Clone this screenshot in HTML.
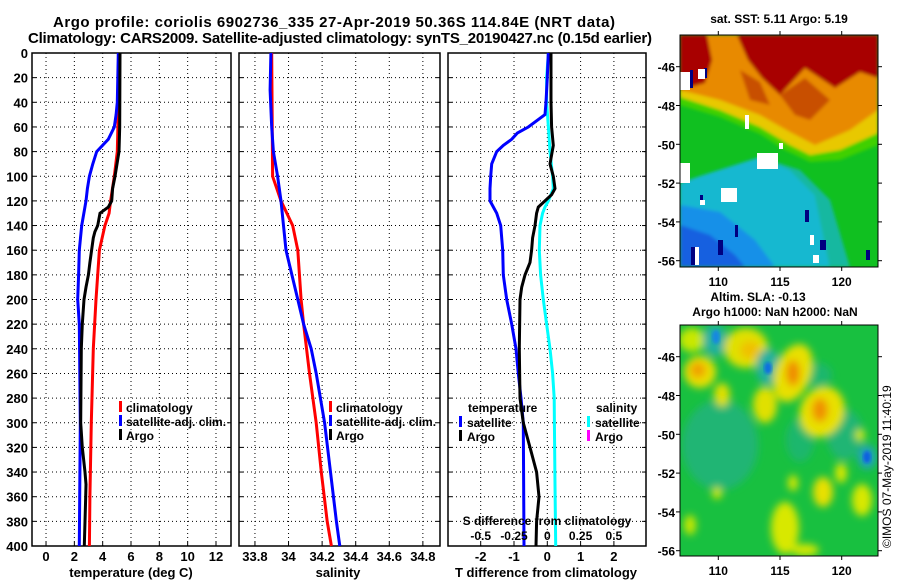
<!DOCTYPE html>
<html><head><meta charset="utf-8"><style>
html,body{margin:0;padding:0;background:#fff;}
svg{display:block;font-family:"Liberation Sans",Arial,sans-serif;font-weight:bold;}
</style></head><body>
<svg id="fig" width="900" height="580" viewBox="0 0 900 580" xmlns="http://www.w3.org/2000/svg">
<defs>
<filter id="blur4" x="-20%" y="-20%" width="140%" height="140%"><feGaussianBlur stdDeviation="4"/></filter>
<filter id="blur2"><feGaussianBlur stdDeviation="1.5"/></filter>
<clipPath id="clipTop"><rect x="680" y="35" width="198" height="232"/></clipPath>
<clipPath id="clipBot"><rect x="680" y="325" width="198" height="231"/></clipPath>
</defs>
<text x="334" y="27" font-size="15" text-anchor="middle" textLength="562">Argo profile: coriolis 6902736_335 27-Apr-2019 50.36S 114.84E (NRT data)</text>
<text x="340" y="43" font-size="15" text-anchor="middle" textLength="624">Climatology: CARS2009. Satellite-adjusted climatology: synTS_20190427.nc (0.15d earlier)</text>

<g id="p1"></g>
<g id="p2"></g>
<g id="p3"></g>

<g font-size="12">
<rect x="119" y="401" width="3" height="11" fill="#f00"/><text x="126" y="412">climatology</text>
<rect x="119" y="415" width="3" height="11" fill="#00f"/><text x="126" y="426">satellite-adj. clim.</text>
<rect x="119" y="429" width="3" height="11" fill="#000"/><text x="126" y="440">Argo</text>
</g>
<g font-size="12">
<rect x="329" y="401" width="3" height="11" fill="#f00"/><text x="336" y="412">climatology</text>
<rect x="329" y="415" width="3" height="11" fill="#00f"/><text x="336" y="426">satellite-adj. clim.</text>
<rect x="329" y="429" width="3" height="11" fill="#000"/><text x="336" y="440">Argo</text>
</g>
<g font-size="12">
<text x="468" y="412">temperature</text>
<rect x="459" y="416" width="3" height="11" fill="#00f"/><text x="467" y="427">satellite</text>
<rect x="459" y="430" width="3" height="11" fill="#000"/><text x="467" y="441">Argo</text>
<text x="596" y="412">salinity</text>
<rect x="587" y="416" width="3" height="11" fill="#0ff"/><text x="595" y="427">satellite</text>
<rect x="587" y="430" width="3" height="11" fill="#f0f"/><text x="595" y="441">Argo</text>
</g>
<text x="547" y="525" font-size="12" text-anchor="middle">S difference from climatology</text>

<text x="779" y="23" font-size="12" text-anchor="middle">sat. SST: 5.11 Argo: 5.19</text>
<g clip-path="url(#clipTop)">
<rect x="680" y="35" width="198" height="232" fill="#10c020"/>
<g filter="url(#blur2)">
<polygon points="680,95 720,108 760,125 790,143 810,153 840,150 878,132 878,145 840,160 810,162 785,150 760,134 720,117 680,105" fill="#40d000"/>
<polygon points="680,35 878,35 878,133 840,150 810,155 790,145 760,127 720,110 680,97" fill="#e8c800"/>
<polygon points="680,35 878,35 878,110 850,130 815,145 790,132 760,115 720,100 680,90" fill="#e88a00"/>
<polygon points="680,35 707,35 712,60 705,83 680,90" fill="#a80000"/>
<polygon points="737,35 878,35 878,78 860,72 835,88 805,68 780,95 762,78 748,60" fill="#a80000"/>
<polygon points="780,95 805,78 830,100 810,120 795,115" fill="#c85000"/>
<polygon points="740,70 760,82 770,105 750,100" fill="#c85000"/>
<polygon points="680,183 700,176 760,157 790,170 815,195 830,267 680,267" fill="#18b8d0"/>
<polygon points="760,157 790,170 815,195 830,267 850,267 830,200 800,170" fill="#18b8a0"/>
<polygon points="680,205 720,212 755,240 775,267 680,267" fill="#1890e8"/>
<polygon points="680,225 710,235 735,255 745,267 680,267" fill="#1860e0"/>
</g>
<g fill="#000080">
<rect x="690" y="70" width="3" height="18"/><rect x="704" y="68" width="3" height="10"/><rect x="691" y="247" width="4" height="18"/><rect x="718" y="240" width="5" height="15"/><rect x="805" y="210" width="4" height="12"/><rect x="820" y="240" width="6" height="10"/><rect x="866" y="250" width="4" height="10"/><rect x="735" y="225" width="3" height="12"/><rect x="700" y="195" width="3" height="10"/>
</g>
<g fill="#fff">
<rect x="680" y="72" width="10" height="18"/><rect x="698" y="69" width="7" height="10"/><rect x="757" y="153" width="21" height="16"/><rect x="745" y="115" width="4" height="14"/><rect x="721" y="188" width="16" height="14"/><rect x="680" y="163" width="10" height="20"/><rect x="810" y="235" width="4" height="10"/><rect x="813" y="255" width="6" height="8"/><rect x="695" y="247" width="4" height="18"/><rect x="700" y="200" width="5" height="5"/><rect x="779" y="143" width="4" height="6"/>
</g>
</g>
<rect x="680" y="35" width="198" height="232" fill="none" stroke="#000" stroke-width="1"/>
<g id="mapTopAxes" font-size="12"></g>
<text x="758" y="301" font-size="12" text-anchor="middle">Altim. SLA: -0.13</text>
<text x="775" y="316" font-size="12" text-anchor="middle">Argo h1000: NaN h2000: NaN</text>

<g clip-path="url(#clipBot)">
<rect x="680" y="325" width="198" height="231" fill="#18c040"/>
<g filter="url(#blur4)">
<ellipse cx="720" cy="445" rx="38" ry="45" fill="#22b08a" opacity="0.7"/>
<ellipse cx="845" cy="435" rx="18" ry="25" fill="#22b08a" opacity="0.7"/>
<ellipse cx="800" cy="440" rx="14" ry="22" fill="#22b08a" opacity="0.6"/>
<ellipse cx="818" cy="375" rx="14" ry="12" fill="#22b08a" opacity="0.6"/>
<ellipse cx="692" cy="340" rx="13" ry="12" fill="#c8e800"/>
<ellipse cx="715" cy="340" rx="12" ry="16" fill="#20b0a0"/>
<ellipse cx="746" cy="348" rx="22" ry="20" fill="#e0e000"/>
<ellipse cx="750" cy="350" rx="10" ry="9" fill="#f0c000"/>
<ellipse cx="700" cy="372" rx="16" ry="16" fill="#e8e000"/>
<ellipse cx="698" cy="370" rx="8" ry="8" fill="#f0a000"/>
<ellipse cx="722" cy="395" rx="8" ry="12" fill="#e0e000"/>
<ellipse cx="768" cy="367" rx="12" ry="18" fill="#20b0a0"/>
<ellipse cx="793" cy="373" rx="18" ry="30" fill="#e8e000" transform="rotate(20 793 373)"/>
<ellipse cx="793" cy="373" rx="7" ry="13" fill="#f08a00"/>
<ellipse cx="765" cy="405" rx="12" ry="18" fill="#e0e000"/>
<ellipse cx="822" cy="412" rx="22" ry="26" fill="#e8e000" transform="rotate(25 822 412)"/>
<ellipse cx="820" cy="410" rx="8" ry="12" fill="#f09000"/>
<ellipse cx="867" cy="457" rx="9" ry="12" fill="#20a0c0"/>
<ellipse cx="823" cy="492" rx="10" ry="15" fill="#e8e000"/>
<ellipse cx="841" cy="473" rx="6" ry="10" fill="#d8e800"/>
<ellipse cx="785" cy="528" rx="14" ry="26" fill="#d8e800"/>
<ellipse cx="793" cy="483" rx="5" ry="8" fill="#d8e800"/>
<ellipse cx="862" cy="500" rx="10" ry="16" fill="#d8e800"/>
<ellipse cx="860" cy="435" rx="5" ry="6" fill="#d8e800"/>
<ellipse cx="717" cy="493" rx="5" ry="6" fill="#d8e800"/>
<ellipse cx="690" cy="525" rx="6" ry="10" fill="#c8e800"/>
<ellipse cx="805" cy="550" rx="14" ry="6" fill="#d8e800"/>
</g>
<ellipse cx="768" cy="368" rx="4" ry="6" fill="#1070e0" filter="url(#blur2)"/>
<ellipse cx="716" cy="337" rx="4" ry="7" fill="#1888e0" filter="url(#blur2)"/>
<ellipse cx="867" cy="457" rx="4" ry="6" fill="#1060e0" filter="url(#blur2)"/>
</g>
<rect x="680" y="325" width="198" height="231" fill="none" stroke="#000" stroke-width="1"/>
<g id="mapBotAxes" font-size="12"></g>
<text transform="translate(891,548) rotate(-90)" font-size="12" font-weight="normal">©IMOS 07-May-2019 11:40:19</text>
</svg>
<script>
var climTDepth = [0,40,80,100,120,130,140,160,200,240,300,360,400];
var climT = [5.15,5.12,5.03,4.82,4.56,4.45,4.16,3.77,3.53,3.34,3.2,3.1,3.06];
var satTDepth = [0,40,50,60,70,80,90,100,110,120,140,160,180,200,220,300,400];
var satT = [5.1,5.03,4.95,4.82,4.4,3.58,3.3,3.06,2.92,2.82,2.52,2.35,2.3,2.24,2.35,2.42,2.35];
var argoTDepth = [0,60,80,100,110,120,125,130,140,145,150,170,180,190,200,220,240,300,320,340,350,360,380,400];
var argoT = [5.22,5.2,5.15,4.87,4.7,4.64,4.4,3.81,3.65,3.45,3.34,3.1,2.99,2.82,2.68,2.56,2.49,2.45,2.56,2.75,2.82,2.8,2.75,2.7];
var climSDepth = [0,100,120,140,160,200,220,260,300,340,380,400];
var climS = [33.9,33.905,33.955,34.025,34.055,34.075,34.09,34.125,34.165,34.195,34.23,34.255];
var satSDepth = [0,30,60,80,100,120,140,160,180,200,220,240,260,280,300,340,380,400];
var satS = [33.895,33.89,33.9,33.91,33.935,33.955,33.97,33.985,34.02,34.055,34.09,34.135,34.165,34.19,34.215,34.25,34.285,34.305];
var dTSatDepth = [0,20,40,50,60,65,70,75,80,90,100,110,120,125,130,140,160,180,200,220,240,260,280,300,400];
var dTSat = [0.03,0,-0.04,-0.07,-0.57,-0.9,-1.07,-1.32,-1.52,-1.67,-1.7,-1.72,-1.72,-1.62,-1.52,-1.4,-1.34,-1.32,-1.22,-1.07,-0.94,-0.87,-0.79,-0.72,-0.7];
var dTArgoDepth = [0,40,60,75,90,100,110,115,120,125,130,140,150,160,170,180,190,200,240,280,300,320,340,360,380,400];
var dTArgo = [0.11,0.11,0.13,0.18,0.08,0.18,0.23,0.13,-0.07,-0.27,-0.32,-0.37,-0.44,-0.47,-0.52,-0.67,-0.77,-0.82,-0.84,-0.82,-0.72,-0.52,-0.32,-0.25,-0.32,-0.34];
var dSSatDepth = [0,20,40,60,80,100,110,120,125,130,140,160,180,200,220,240,260,280,300,350,400];
var dSSat = [0.008,-0.005,-0.005,0.008,0.02,0.04,0.045,0.008,-0.018,-0.035,-0.055,-0.06,-0.05,-0.03,-0.005,0.02,0.04,0.052,0.053,0.058,0.063];
var depthTicks = [0,20,40,60,80,100,120,140,160,180,200,220,240,260,280,300,320,340,360,380,400];
var tempTicks = [0,2,4,6,8,10,12];
var salTicks = [33.8,34,34.2,34.4,34.6,34.8];
var salTickLabels = ["33.8","34","34.2","34.4","34.6","34.8"];
var dTTicks = [-2,-1,0,1,2];
var dSTicks = [-0.5,-0.25,0,0.25,0.5];
var dSTickLabels = ["-0.5","-0.25","0","0.25","0.5"];
var latTicks = [-46,-48,-50,-52,-54,-56];
var lonTicks = [110,115,120];

var NS = "http://www.w3.org/2000/svg";
var TOP = 53, BOT = 546;
function yD(d){ return TOP + d*(BOT-TOP)/400; }
function xT(t){ return 32 + (t+0.99)*199/14.05; }
function xS(s){ return 239 + (s-33.705)*201/1.197; }
function xDT(t){ return 547.3 + t*33.3; }
function xDS(s){ return 547.3 + s*133.2; }
function mk(tag, attrs, parent){ var e=document.createElementNS(NS,tag); for(var k in attrs) e.setAttribute(k,attrs[k]); parent.appendChild(e); return e; }

function panel(g, x0, x1, xticks, xfn, labels, showY){
  var i, gx;
  for(i=0;i<depthTicks.length;i++){
    var y=yD(depthTicks[i]);
    if(i>0 && i<depthTicks.length-1){
      gx=mk('line',{x1:x0,x2:x1,y1:y,y2:y,stroke:'#000','stroke-width':1,'stroke-dasharray':'1,3'},g);
      
      
    }
    mk('line',{x1:x0,x2:x0+4,y1:y,y2:y,stroke:'#000','stroke-width':1},g);
    mk('line',{x1:x1-4,x2:x1,y1:y,y2:y,stroke:'#000','stroke-width':1},g);
    if(showY){
      var t=mk('text',{x:x0-4,y:y+5,'font-size':13,'text-anchor':'end'},g);
      t.textContent=depthTicks[i];
      
      
    }
  }
  for(i=0;i<xticks.length;i++){
    var x=xfn(xticks[i]);
    gx=mk('line',{x1:x,x2:x,y1:TOP,y2:BOT,stroke:'#000','stroke-width':1,'stroke-dasharray':'1,3'},g);
    
    
    mk('line',{x1:x,x2:x,y1:BOT-4,y2:BOT,stroke:'#000','stroke-width':1},g);
    var tl=mk('text',{x:x,y:561,'font-size':13,'text-anchor':'middle'},g);
    tl.textContent=labels[i];
    
    
  }
  var fr=mk('rect',{x:x0,y:TOP,width:x1-x0,height:BOT-TOP,fill:'none',stroke:'#000','stroke-width':1.5},g);
  
  
}
function line(g, depths, vals, xfn, color, name){
  var pts=[];
  for(var i=0;i<vals.length;i++) pts.push(xfn(vals[i]).toFixed(1)+','+yD(depths[i]).toFixed(1));
  var p=mk('polyline',{points:pts.join(' '),fill:'none',stroke:color,'stroke-width':3,'stroke-linejoin':'miter'},g);
  
  
}
var p1=document.getElementById('p1'), p2=document.getElementById('p2'), p3=document.getElementById('p3');
panel(p1,32,231,tempTicks,xT,tempTicks.map(String),true);
line(p1,climTDepth,climT,xT,'#f00','climatology-temperature-line');
line(p1,satTDepth,satT,xT,'#00f','satellite-temperature-line');
line(p1,argoTDepth,argoT,xT,'#000','argo-temperature-line');
var a1=mk('text',{x:131,y:577,'font-size':13,'text-anchor':'middle'},p1); a1.textContent='temperature (deg C)';



panel(p2,239,440,salTicks,xS,salTickLabels,false);
line(p2,climSDepth,climS,xS,'#f00','climatology-salinity-line');
line(p2,satSDepth,satS,xS,'#00f','satellite-salinity-line');
var a2=mk('text',{x:338,y:577,'font-size':13,'text-anchor':'middle'},p2); a2.textContent='salinity';



panel(p3,448,646,dTTicks,xDT,dTTicks.map(String),false);
line(p3,dSSatDepth,dSSat,xDS,'#0ff','satellite-salinity-difference-line');
line(p3,dTSatDepth,dTSat,xDT,'#00f','satellite-temperature-difference-line');
line(p3,dTArgoDepth,dTArgo,xDT,'#000','argo-temperature-difference-line');
for(var i=0;i<dSTicks.length;i++){
  var st=mk('text',{x:xDS(dSTicks[i]),y:540,'font-size':12,'text-anchor':'middle'},p3);
  st.textContent=dSTickLabels[i];
  
  
}
var a3=mk('text',{x:546,y:577,'font-size':13,'text-anchor':'middle'},p3); a3.textContent='T difference from climatology';



function mapAxes(g, y0, y1, latY){
  var i;
  for(i=0;i<latTicks.length;i++){
    var y=latY(latTicks[i]);
    mk('line',{x1:676,x2:680,y1:y,y2:y,stroke:'#000'},g);
    mk('line',{x1:878,x2:882,y1:y,y2:y,stroke:'#000'},g);
    var t=mk('text',{x:675,y:y+5,'text-anchor':'end'},g); t.textContent=latTicks[i];
    
    
  }
  for(i=0;i<lonTicks.length;i++){
    var x=718.3+(lonTicks[i]-110)*12.34;
    mk('line',{x1:x,x2:x,y1:y0-4,y2:y0,stroke:'#000'},g);
    mk('line',{x1:x,x2:x,y1:y1,y2:y1+4,stroke:'#000'},g);
    var l=mk('text',{x:x,y:y1+19,'text-anchor':'middle'},g); l.textContent=lonTicks[i];
    
    
  }
}
mapAxes(document.getElementById('mapTopAxes'),35,267,function(l){return 66.7+(-46-l)*19.4;});
mapAxes(document.getElementById('mapBotAxes'),325,556,function(l){return 356.7+(-46-l)*19.4;});
</script>
</body></html>
